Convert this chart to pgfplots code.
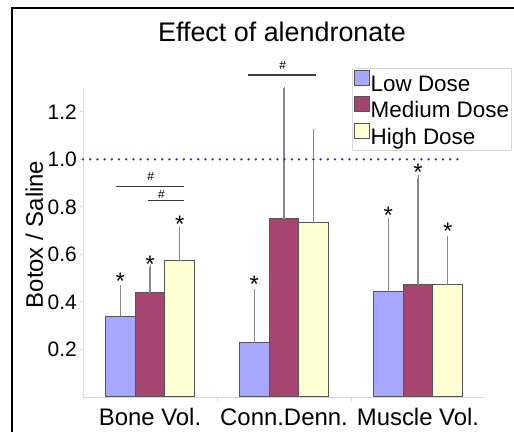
\documentclass[border=0pt]{standalone}
\usepackage{pgfplots}
\pgfplotsset{compat=1.18}
\usepackage{fontspec}
\setmainfont{Liberation Sans}
\definecolor{lowc}{RGB}{166,168,255}
\definecolor{medc}{RGB}{165,69,112}
\definecolor{highc}{RGB}{255,255,210}
\definecolor{edgec}{RGB}{85,85,85}
\definecolor{errc}{RGB}{135,135,135}
\definecolor{dotc}{RGB}{45,45,190}
\definecolor{axc}{RGB}{215,215,215}
\definecolor{sigc}{RGB}{60,60,60}
\pgfplotsset{
  mybar/.style={fill=#1, draw=edgec, line width=1.1bp,
    legend image code/.code={\draw[##1, draw=edgec, line width=1bp] (0bp,0bp) rectangle (15bp,15bp);},
    error bars/.cd, y dir=plus, y explicit,
    error bar style={errc, line width=1.2bp},
    error mark options={errc, mark size=2.5bp, line width=1bp}},
}
\begin{document}
\begin{tikzpicture}
\useasboundingbox (0,0) rectangle (514bp,432bp);
\begin{axis}[
  at={(83bp,35bp)}, anchor=south west,
  scale only axis, width=402bp, height=309bp,
  xmin=-0.5, xmax=2.5, ymin=0, ymax=1.3,
  axis x line*=bottom, axis y line*=left,
  axis line style={axc, line width=1bp, -},
  every outer x axis line/.append style={-},
  every outer y axis line/.append style={-},
  ybar=0pt, bar width=29.7bp,
  clip mode=individual,
  xtick={0,1,2}, xticklabels={Bone Vol., Conn.Denn., Muscle Vol.},
  minor xtick={0.5,1.5},
  x tick style={draw=none},
  minor x tick style={draw=axc, line width=1bp},
  minor tick length=4bp,
  ytick={0.2,0.4,0.6,0.8,1.0,1.2},
  yticklabels={0.2,0.4,0.6,0.8,1.0,1.2},
  y tick style={axc, line width=1bp},
  major tick length=3bp,
  tick align=outside,
  xticklabel style={font=\fontsize{24}{28}\selectfont, yshift=-5bp},
  yticklabel style={font=\fontsize{21}{25}\selectfont, inner sep=0pt, xshift=-3bp},
  /pgf/number format/assume math mode=true,
  ylabel={Botox / Saline},
  ylabel style={font=\fontsize{24}{28}\selectfont, at={(axis description cs:-0.121,0.526)}, anchor=center},
  legend style={at={(0.670,1.064)}, anchor=north west, draw=axc, line width=0.8bp,
    inner sep=1bp, font=\fontsize{22.5}{26}\selectfont,
    nodes={inner sep=1bp, text height=16bp, text depth=4bp},
    row sep=0pt},
  legend cell align=left,
]
\addplot[mybar=lowc] coordinates {(0,0.340) +- (0,0.120) (1,0.228) +- (0,0.216) (2,0.444) +- (0,0.299)};
\addlegendentry{Low Dose}
\addplot[mybar=medc] coordinates {(0,0.439) +- (0,0.106) (1,0.750) +- (0,0.550) (2,0.472) +- (0,0.451)};
\addlegendentry{Medium Dose}
\addplot[mybar=highc] coordinates {(0,0.573) +- (0,0.132) (1,0.733) +- (0,0.386) (2,0.472) +- (0,0.195)};
\addlegendentry{High Dose}

\draw[dotc, line width=2.6bp, line cap=round, dash pattern=on 0bp off 7.2bp] (axis cs:-0.5,1) -- (axis cs:2.34,1);

\begin{scope}[every node/.style={font=\fontsize{24}{28}\selectfont, inner sep=0pt}]
\node at (axis cs:-0.2216,0.487) {*};
\node at (axis cs:0,0.557) {*};
\node at (axis cs:0.2216,0.725) {*};
\node at (axis cs:0.7784,0.473) {*};
\node at (axis cs:1.7784,0.763) {*};
\node at (axis cs:2,0.944) {*};
\node at (axis cs:2.2216,0.696) {*};
\end{scope}

\draw[sigc, line width=1.6bp] (axis cs:-0.257,0.885) -- (axis cs:0.252,0.885);
\draw[sigc, line width=1.6bp] (axis cs:-0.018,0.827) -- (axis cs:0.252,0.827);
\draw[sigc, line width=1.6bp] (axis cs:0.728,1.354) -- (axis cs:1.24,1.354);
\begin{scope}[every node/.style={font=\fontsize{12}{14}\selectfont, inner sep=0pt}]
\node at (axis cs:0.006,0.93) {\#};
\node at (axis cs:0.086,0.853) {\#};
\node at (axis cs:0.991,1.393) {\#};
\end{scope}
\end{axis}
\node[anchor=base, font=\fontsize{27}{32}\selectfont] at (282bp,390bp) {Effect of alendronate};
\draw[line width=2bp] (12bp,0bp) -- (12bp,424bp) -- (514bp,424bp);
\end{tikzpicture}
\end{document}
